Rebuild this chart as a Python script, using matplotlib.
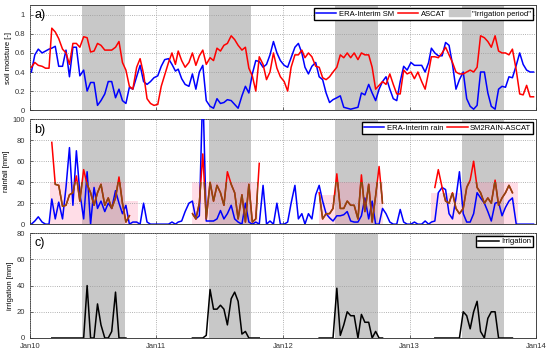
import matplotlib
matplotlib.use("Agg")
import matplotlib.pyplot as plt
import matplotlib.dates as mdates
from matplotlib.patches import Rectangle, Patch
from matplotlib.lines import Line2D
from datetime import datetime
import numpy as np

nan = np.nan
plt.rcParams['font.family'] = ['Liberation Sans', 'DejaVu Sans']

# dekadal time axis, 2010-2013
years = [2010, 2011, 2012, 2013]
dates = [datetime(y, m, d) for y in years for m in range(1, 13) for d in (5, 15, 25)]

# soil moisture [-]
sm_era = [
    0.40, 0.58, 0.64, 0.60, 0.62, 0.64, 0.65, 0.67, 0.46, 0.46, 0.63, 0.35, 0.66, 0.66, 0.36, 0.42, 0.20, 0.29,
    0.29, 0.05, 0.10, 0.17, 0.30, 0.30, 0.13, 0.22, 0.10, 0.07, 0.24, 0.22, 0.35, 0.47, 0.30, 0.27, 0.30, 0.34,
    0.36, 0.46, 0.53, 0.54, 0.48, 0.41, 0.43, 0.33, 0.27, 0.25, 0.38, 0.22, 0.40, 0.47, 0.10, 0.04, 0.02, 0.12,
    0.07, 0.08, 0.11, 0.10, 0.06, 0.02, 0.15, 0.25, 0.18, 0.38, 0.52, 0.51, 0.45, 0.48, 0.58, 0.72, 0.60, 0.52,
    0.47, 0.45, 0.55, 0.66, 0.70, 0.60, 0.45, 0.38, 0.46, 0.50, 0.35, 0.32, 0.18, 0.08, 0.11, 0.13, 0.15, 0.03,
    0.02, 0.01, 0.02, 0.03, 0.18, 0.16, 0.27, 0.18, 0.10, 0.22, 0.30, 0.35, 0.22, 0.12, 0.10, 0.30, 0.46, 0.42,
    0.50, 0.47, 0.47, 0.47, 0.40, 0.50, 0.65, 0.60, 0.57, 0.57, 0.71, 0.68, 0.48, 0.22, 0.32, 0.40, 0.12, 0.04,
    0.01, 0.05, 0.40, 0.40, 0.18, 0.04, 0.01, 0.22, 0.25, 0.24, 0.35, 0.34, 0.47, 0.60, 0.48, 0.42, 0.40, 0.40,
]
sm_ascat = [
    0.45, 0.50, 0.47, 0.46, 0.44, 0.44, 0.86, 0.82, 0.75, 0.64, 0.60, 0.48, 0.70, 0.70, 0.66, 0.77, 0.76, 0.61,
    0.62, 0.70, 0.68, 0.63, 0.63, 0.63, 0.66, 0.72, 0.50, 0.42, 0.25, 0.22, 0.45, 0.54, 0.38, 0.12, 0.07, 0.05,
    0.06, 0.25, 0.37, 0.50, 0.60, 0.48, 0.62, 0.52, 0.45, 0.50, 0.60, 0.47, 0.57, 0.63, 0.48, 0.55, 0.52, 0.65,
    0.62, 0.68, 0.70, 0.78, 0.74, 0.68, 0.63, 0.66, 0.44, 0.36, 0.20, 0.56, 0.48, 0.32, 0.40, 0.60, 0.44, 0.35,
    0.30, 0.20, 0.45, 0.58, 0.58, 0.63, 0.55, 0.60, 0.56, 0.46, 0.45, 0.34, 0.32, 0.35, 0.40, 0.45, 0.58, 0.55,
    0.60, 0.55, 0.60, 0.53, 0.60, 0.58, 0.58, 0.45, 0.22, 0.26, 0.30, 0.27, 0.38, 0.27, 0.17, 0.17, 0.42, 0.38,
    0.40, 0.33, 0.40, 0.30, 0.22, 0.40, 0.56, 0.56, 0.55, 0.60, 0.66, 0.58, 0.50, 0.40, 0.38, 0.38, 0.40, 0.42,
    0.40, 0.45, 0.78, 0.76, 0.72, 0.66, 0.78, 0.62, 0.60, 0.60, 0.58, 0.64, 0.42, 0.17, 0.16, 0.26, 0.14, 0.14,
]

# rainfall [mm]
rain_era = [
    0, 3, 7, 2, 0, 0, 24, 5, 21, 5, 35, 73, 18, 70, 30, 5, 50, 0,
    35, 15, 22, 12, 20, 15, 32, 20, 10, 18, 0, 2, 2, 0, 20, 2, 0, 0,
    0, 0, 0, 0, 2, 0, 2, 3, 12, 20, 22, 5, 8, 130, 3, 3, 3, 5,
    13, 5, 10, 18, 5, 2, 0, 20, 2, 0, 2, 0, 37, 0, 3, 0, 20, 0,
    0, 2, 20, 37, 5, 10, 0, 10, 5, 28, 37, 22, 10, 6, 3, 8, 8, 9,
    12, 3, 2, 2, 8, 25, 5, 22, 0, 0, 15, 10, 2, 0, 0, 14, 2, 0,
    0, 2, 0, 0, 3, 0, 2, 3, 30, 35, 33, 10, 5, 25, 50, 10, 2, 2,
    10, 30, 25, 20, 12, 3, 20, 21, 8, 16, 22, 25, 0, 0, 0, 0, 0, 0,
]
rain_sm2rain = (
    [nan] * 6 + [78, 38, 37, 17, 18, 28, 30, 46, 22, 52, 38, 30, 18, 30, 38, 18, 25, 15, 25, 45, 20, 2, 8] + [nan] * 7
    + [nan] * 10 + [10, 5, 20, 67, 5, 40, 22, 37, 30, 18, 50, 38, 30, 5, 28, 2, 38, 2, 5, 58] + [nan] * 6
    + [nan] * 10 + [30, 5, 10, 10, 15, 48, 15, 15, 22, 18, 18, 5, 47, 12, 38, 2, 27, 55, 20] + [nan] * 7
    + [nan] * 7 + [35, 52, 35, 22, 20, 30, 15, 10, 15, 35, 42, 60, 35, 30, 20, 25, 20, 42, 18, 25, 30, 37, 30] + [nan] * 6
)

# pink band behind SM2RAIN (start, end, top)
band_start = [datetime(2010, 3, 1), datetime(2010, 10, 1), datetime(2011, 4, 15),
              datetime(2012, 4, 15), datetime(2012, 6, 1), datetime(2013, 3, 5), datetime(2013, 6, 1)]
band_end = [datetime(2010, 10, 1), datetime(2010, 11, 10), datetime(2011, 10, 20),
            datetime(2012, 6, 1), datetime(2012, 10, 15), datetime(2013, 6, 1), datetime(2013, 11, 10)]
band_top = [40, 22, 40, 28, 40, 30, 40]

# irrigation [mm]
irrigation = (
    [nan] * 6 + [0] * 10 + [40, 0, 0, 26, 10, 0, 0, 5, 35, 0, 0, 0] + [nan] * 8
    + [nan] * 10 + [0, 0, 0, 0, 2, 37, 22, 22, 25, 22, 10, 30, 35, 28, 3, 5, 0, 0, 0, 0] + [nan] * 6
    + [nan] * 10 + [0, 0, 0, 0, 0, 38, 2, 10, 20, 17, 17, 0, 18, 12, 12, 0, 5, 0, 0] + [nan] * 7
    + [nan] * 7 + [0, 0, 0, 0, 0, 0, 0, 0, 20, 17, 7, 20, 28, 5, 0, 15, 20, 20, 0, 0, 0, 0, 0] + [nan] * 6
)

irr_start = [datetime(y, 6, 1) for y in years]
irr_end = [datetime(y, 10, 1) for y in years]

gray = '#c8c8c8'
fig = plt.figure(figsize=(5.5, 3.53), dpi=100)
ax_a = fig.add_axes([0.0545, 0.688, 0.92, 0.297])
ax_b = fig.add_axes([0.0545, 0.365, 0.92, 0.297])
ax_c = fig.add_axes([0.0545, 0.0425, 0.92, 0.297])

for ax in (ax_a, ax_b, ax_c):
    for s, e in zip(irr_start, irr_end):
        ax.axvspan(mdates.date2num(s), mdates.date2num(e), color=gray, lw=0, zorder=0)
    ax.set_xlim(datetime(2010, 1, 1), datetime(2014, 1, 1))
    ax.xaxis.set_major_locator(mdates.YearLocator())
    ax.xaxis.set_major_formatter(mdates.DateFormatter('%b%y'))
    ax.grid(True, ls=':', color='#999999', lw=0.6)
    ax.set_axisbelow(False)
    ax.tick_params(direction='in', labelsize=5.5, length=2.5, width=0.5, colors='#333333')
    for sp in ax.spines.values():
        sp.set_linewidth(0.7)
        sp.set_color('#444444')

# a) soil moisture
ax_a.plot(dates, sm_era, color='#0000ff', lw=1.1, zorder=3)
ax_a.plot(dates, sm_ascat, color='#ff0000', lw=1.1, zorder=3)
ax_a.set_ylim(0, 1.1)
ax_a.set_yticks([0, 0.2, 0.4, 0.6, 0.8, 1])
ax_a.set_yticklabels(['0', '0.2', '0.4', '0.6', '0.8', '1'])
ax_a.set_ylabel('soil moisture [-]', fontsize=5.5, labelpad=2)
ax_a.tick_params(labelbottom=False)
ax_a.text(0.008, 0.96, 'a)', transform=ax_a.transAxes, va='top', fontsize=9)
h_a = [Line2D([], [], color='#0000ff', lw=1.1), Line2D([], [], color='#ff0000', lw=1.1),
       Patch(color=gray)]
ax_a.legend(h_a, ['ERA-Interim SM', 'ASCAT', '"Irrigation period"'], ncol=3, loc='upper right',
            fontsize=5.5, fancybox=False, edgecolor='black', framealpha=1, borderpad=0.25,
            columnspacing=0.5, handletextpad=0.3, handlelength=2.7, borderaxespad=0.4)

# b) rainfall
for s, e, t in zip(band_start, band_end, band_top):
    x0 = mdates.date2num(s)
    rect = Rectangle((x0, 0), mdates.date2num(e) - x0, t, facecolor='#ff8fb0', alpha=0.3, lw=0, zorder=1)
    ax_b.add_patch(rect)
ax_b.plot(dates, rain_era, color='#0000ff', lw=1.1, zorder=3)
ax_b.plot(dates, rain_sm2rain, color='#ff0000', lw=1.1, zorder=4)
for s, e, t in zip(band_start, band_end, band_top):
    x0 = mdates.date2num(s)
    clip = Rectangle((x0, 0), mdates.date2num(e) - x0, t, transform=ax_b.transData)
    ln, = ax_b.plot(dates, rain_sm2rain, color='#8a4a12', lw=1.1, zorder=5)
    ln.set_clip_path(clip)
ax_b.set_ylim(0, 100)
ax_b.set_yticks([0, 20, 40, 60, 80, 100])
ax_b.set_ylabel('rainfall [mm]', fontsize=5.5, labelpad=2)
ax_b.tick_params(labelbottom=False)
ax_b.text(0.008, 0.96, 'b)', transform=ax_b.transAxes, va='top', fontsize=9)
h_b = [Line2D([], [], color='#0000ff', lw=1.1), Line2D([], [], color='#ff0000', lw=1.1)]
ax_b.legend(h_b, ['ERA-Interim rain', 'SM2RAIN-ASCAT'], ncol=2, loc='upper right',
            fontsize=5.5, fancybox=False, edgecolor='black', framealpha=1, borderpad=0.25,
            columnspacing=0.5, handletextpad=0.3, handlelength=2.7, borderaxespad=0.4)

# c) irrigation
ax_c.plot(dates, irrigation, color='black', lw=1.1, zorder=3)
ax_c.set_ylim(0, 80)
ax_c.set_yticks([0, 20, 40, 60, 80])
ax_c.set_ylabel('irrigation [mm]', fontsize=5.5, labelpad=2)
ax_c.text(0.008, 0.96, 'c)', transform=ax_c.transAxes, va='top', fontsize=9)
ax_c.legend([Line2D([], [], color='black', lw=1.1)], ['Irrigation'], loc='upper right',
            fontsize=5.5, fancybox=False, edgecolor='black', framealpha=1, borderpad=0.25,
            handletextpad=0.3, handlelength=2.7, borderaxespad=0.4)

fig.savefig('out.png', dpi=100)
